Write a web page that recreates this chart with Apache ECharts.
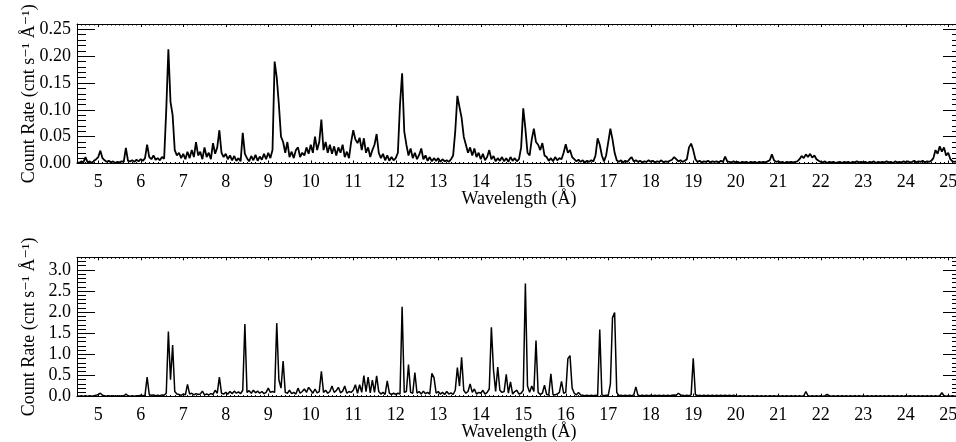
<!DOCTYPE html>
<html>
<head>
    <meta charset="utf-8"/>
    <title>Count rate spectra</title>
    <style type="text/css">
        body { margin: 0; background: #fff; }
        #main { width: 956px; height: 442px; }
    </style>
    <script type="text/javascript" src="https://cdn.jsdelivr.net/npm/echarts@6/dist/echarts.min.js"></script>
</head>
<body>
<div id="main"></div>
<script type="text/javascript">

    // wavelength grid: 4.50 .. 25.30 A, one value every 0.05 A
    var waveStart = 4.5;
    var waveStep = 0.05;

    // upper panel, count rate (cnt s^-1 A^-1), rows start at 4.5, 5, 6, ... 25
    var rateTop = [
        0.003,0.001,0.004,0.002,0.012,0.002,0.004,0.001,0.005,0.008,
        0.012,0.024,0.010,0.006,0.003,0.005,0.002,0.004,0.001,0.003,0.002,0.004,0.003,0.029,0.005,0.004,0.006,0.003,0.007,0.004,
        0.008,0.005,0.010,0.035,0.012,0.008,0.015,0.007,0.010,0.006,0.012,0.009,0.100,0.213,0.115,0.090,0.025,0.015,0.020,0.010,
        0.018,0.008,0.022,0.010,0.025,0.012,0.040,0.015,0.022,0.008,0.030,0.012,0.020,0.008,0.038,0.018,0.030,0.062,0.020,0.012,
        0.018,0.008,0.015,0.006,0.014,0.005,0.010,0.004,0.057,0.018,0.010,0.004,0.014,0.006,0.016,0.005,0.013,0.007,0.018,0.008,
        0.020,0.010,0.025,0.190,0.160,0.110,0.050,0.040,0.020,0.040,0.012,0.022,0.010,0.025,0.030,0.012,0.020,0.015,0.030,0.018,
        0.035,0.020,0.050,0.025,0.040,0.082,0.025,0.040,0.020,0.035,0.018,0.032,0.015,0.030,0.020,0.035,0.012,0.022,0.010,0.040,
        0.062,0.045,0.038,0.048,0.025,0.047,0.020,0.030,0.012,0.025,0.035,0.055,0.020,0.010,0.018,0.006,0.015,0.005,0.012,0.006,
        0.010,0.020,0.110,0.168,0.060,0.035,0.015,0.028,0.010,0.020,0.008,0.016,0.028,0.008,0.015,0.005,0.012,0.004,0.010,0.005,
        0.010,0.003,0.008,0.004,0.006,0.003,0.008,0.015,0.060,0.126,0.105,0.085,0.050,0.035,0.020,0.030,0.015,0.028,0.012,0.020,
        0.008,0.018,0.006,0.012,0.025,0.008,0.014,0.004,0.010,0.005,0.012,0.004,0.010,0.003,0.012,0.005,0.010,0.004,0.008,0.030,
        0.103,0.065,0.020,0.015,0.045,0.065,0.040,0.035,0.025,0.038,0.015,0.012,0.005,0.010,0.004,0.012,0.006,0.010,0.008,0.020,
        0.036,0.020,0.025,0.012,0.008,0.004,0.007,0.003,0.006,0.002,0.005,0.003,0.006,0.004,0.015,0.047,0.035,0.015,0.004,0.015,
        0.040,0.065,0.045,0.020,0.006,0.003,0.006,0.002,0.005,0.003,0.008,0.012,0.004,0.006,0.003,0.005,0.002,0.004,0.003,0.006,
        0.003,0.005,0.002,0.004,0.003,0.006,0.002,0.004,0.003,0.005,0.007,0.012,0.008,0.004,0.006,0.003,0.005,0.008,0.030,0.037,
        0.025,0.008,0.003,0.005,0.002,0.004,0.003,0.005,0.002,0.004,0.003,0.004,0.002,0.005,0.003,0.013,0.004,0.003,0.002,0.004,
        0.002,0.003,0.001,0.003,0.002,0.003,0.001,0.003,0.002,0.003,0.001,0.003,0.002,0.003,0.002,0.004,0.006,0.017,0.006,0.003,
        0.004,0.002,0.003,0.001,0.003,0.002,0.003,0.002,0.003,0.004,0.008,0.014,0.010,0.017,0.012,0.018,0.011,0.015,0.008,0.005,
        0.003,0.002,0.004,0.001,0.003,0.002,0.003,0.001,0.002,0.003,0.001,0.003,0.002,0.003,0.001,0.003,0.002,0.004,0.002,0.003,
        0.002,0.003,0.001,0.003,0.002,0.004,0.001,0.003,0.002,0.003,0.002,0.004,0.002,0.003,0.001,0.004,0.002,0.003,0.002,0.004,
        0.002,0.004,0.002,0.003,0.005,0.002,0.004,0.003,0.005,0.002,0.004,0.003,0.005,0.010,0.025,0.018,0.032,0.022,0.030,0.015,
        0.020,0.008,0.004,0.003,0.004,0.002,0.003
    ];

    // lower panel, count rate (cnt s^-1 A^-1), same grid
    var rateBottom = [
        0.02,0.01,0.02,0.01,0.02,0.01,0.02,0.01,0.02,0.03,
        0.05,0.08,0.03,0.02,0.01,0.02,0.01,0.02,0.01,0.02,0.01,0.02,0.01,0.06,0.02,0.01,0.02,0.01,0.02,0.02,
        0.03,0.02,0.03,0.46,0.05,0.03,0.04,0.02,0.03,0.02,0.04,0.03,0.08,1.54,0.40,1.22,0.12,0.06,0.05,0.03,
        0.06,0.04,0.29,0.06,0.08,0.04,0.07,0.05,0.06,0.13,0.04,0.06,0.04,0.07,0.05,0.15,0.08,0.46,0.08,0.06,
        0.10,0.06,0.12,0.07,0.13,0.08,0.11,0.07,0.15,1.72,0.10,0.14,0.08,0.15,0.09,0.13,0.08,0.12,0.07,0.10,
        0.20,0.10,0.12,0.10,1.74,0.40,0.20,0.84,0.10,0.08,0.15,0.07,0.10,0.06,0.20,0.08,0.12,0.18,0.10,0.22,
        0.15,0.08,0.18,0.09,0.12,0.60,0.10,0.15,0.08,0.12,0.25,0.10,0.14,0.22,0.09,0.13,0.25,0.08,0.12,0.10,
        0.15,0.28,0.08,0.28,0.10,0.50,0.12,0.46,0.09,0.39,0.10,0.49,0.12,0.06,0.10,0.05,0.37,0.08,0.05,0.08,
        0.05,0.08,0.06,2.13,0.10,0.12,0.76,0.10,0.08,0.57,0.08,0.12,0.06,0.13,0.07,0.10,0.06,0.55,0.45,0.08,
        0.12,0.06,0.10,0.05,0.12,0.06,0.09,0.05,0.15,0.69,0.25,0.93,0.15,0.08,0.12,0.30,0.10,0.18,0.06,0.10,
        0.08,0.15,0.06,0.10,0.18,1.64,0.63,0.12,0.70,0.15,0.10,0.12,0.53,0.08,0.35,0.06,0.12,0.15,0.06,0.08,
        0.15,2.68,0.25,0.10,0.25,0.12,1.33,0.10,0.05,0.08,0.27,0.05,0.04,0.54,0.05,0.04,0.06,0.10,0.36,0.08,
        0.10,0.90,0.97,0.20,0.08,0.04,0.10,0.04,0.03,0.02,0.03,0.02,0.03,0.02,0.03,0.02,1.59,0.04,0.02,0.03,
        0.03,0.30,1.87,1.99,0.10,0.02,0.03,0.02,0.03,0.02,0.03,0.02,0.04,0.23,0.03,0.02,0.03,0.02,0.03,0.02,
        0.03,0.02,0.03,0.02,0.03,0.02,0.03,0.02,0.03,0.02,0.03,0.04,0.03,0.08,0.04,0.03,0.02,0.03,0.02,0.04,
        0.91,0.05,0.02,0.03,0.02,0.03,0.02,0.03,0.02,0.03,0.02,0.03,0.02,0.03,0.02,0.03,0.02,0.03,0.02,0.03,
        0.02,0.01,0.02,0.01,0.02,0.01,0.02,0.01,0.02,0.01,0.02,0.01,0.02,0.01,0.02,0.01,0.02,0.01,0.02,0.01,
        0.02,0.01,0.02,0.01,0.02,0.01,0.02,0.01,0.02,0.01,0.02,0.01,0.02,0.12,0.02,0.01,0.02,0.01,0.02,0.01,
        0.02,0.01,0.02,0.05,0.02,0.01,0.02,0.01,0.02,0.01,0.02,0.01,0.02,0.01,0.02,0.01,0.02,0.01,0.02,0.01,
        0.02,0.01,0.02,0.01,0.02,0.01,0.02,0.01,0.02,0.01,0.02,0.01,0.02,0.01,0.02,0.01,0.02,0.01,0.02,0.01,
        0.02,0.01,0.02,0.01,0.02,0.01,0.02,0.01,0.02,0.01,0.02,0.01,0.02,0.01,0.02,0.01,0.02,0.09,0.02,0.01,
        0.02,0.01,0.02,0.01,0.02,0.01,0.02
    ];

    var xName = 'Wavelength (\u00C5)';
    var yName = 'Count Rate (cnt s\u207B\u00B9 \u00C5\u207B\u00B9)';
    var serif = 'Liberation Serif, DejaVu Serif, serif';
    var fontPx = 18;

    function toPairs(rates) {
        return rates.map(function (r, i) {
            return [+(waveStart + i * waveStep).toFixed(2), r];
        });
    }

    var black = {color: '#000', width: 1};

    // wavelength axes, one at the bottom with labels and a bare one on top
    function waveAxis(grid, pos) {
        var ax = {
            gridIndex: grid,
            type: 'value',
            position: pos,
            min: 4.5,
            max: 25.3,
            splitNumber: 20,
            axisLine: {show: true, onZero: false, lineStyle: black},
            axisTick: {show: true, inside: true, length: 3, lineStyle: black},
            minorTick: {show: true, splitNumber: 10, length: 1.5, lineStyle: black},
            splitLine: {show: false},
            axisLabel: {show: false}
        };
        if (pos === 'bottom') {
            ax.axisLabel = {
                show: true, color: '#000', fontFamily: serif, fontSize: fontPx, margin: 10,
                showMinLabel: false, showMaxLabel: false
            };
            ax.name = xName;
            ax.nameLocation = 'middle';
            ax.nameGap = 27;
            ax.nameMoveOverlap = false;
            ax.nameTextStyle = {color: '#000', fontFamily: serif, fontSize: fontPx};
        }
        return ax;
    }

    function rateAxis(grid, pos, max, step, digits) {
        var ax = {
            gridIndex: grid,
            type: 'value',
            position: pos,
            min: 0,
            max: max,
            interval: step,
            axisLine: {show: true, lineStyle: black},
            axisTick: {show: true, inside: true, length: 18, lineStyle: black},
            minorTick: {show: true, splitNumber: 5, length: 9, lineStyle: black},
            splitLine: {show: false},
            axisLabel: {show: false}
        };
        if (pos === 'left') {
            ax.axisLabel = {
                show: true, color: '#000', fontFamily: serif, fontSize: fontPx, margin: 6,
                showMaxLabel: false,
                formatter: function (v) { return v.toFixed(digits); }
            };
            ax.name = yName;
            ax.nameLocation = 'middle';
            ax.nameGap = 39;
            ax.nameMoveOverlap = false;
            ax.nameTextStyle = {color: '#000', fontFamily: serif, fontSize: fontPx};
        }
        return ax;
    }

    var myChart = echarts.init(document.getElementById('main'), null, {renderer: 'canvas'});

    var option = {
        backgroundColor: '#fff',
        animation: false,
        grid: [
            {left: 77, top: 24, width: 884, height: 139.5, outerBoundsMode: 'none', containLabel: false},
            {left: 77, top: 257.3, width: 884, height: 139.3, outerBoundsMode: 'none', containLabel: false}
        ],
        xAxis: [
            waveAxis(0, 'bottom'), waveAxis(0, 'top'),
            waveAxis(1, 'bottom'), waveAxis(1, 'top')
        ],
        yAxis: [
            rateAxis(0, 'left', 0.26, 0.05, 2), rateAxis(0, 'right', 0.26, 0.05, 2),
            rateAxis(1, 'left', 3.3, 0.5, 1), rateAxis(1, 'right', 3.3, 0.5, 1)
        ],
        series: [
            {
                type: 'line', xAxisIndex: 0, yAxisIndex: 0,
                data: toPairs(rateTop),
                showSymbol: false, clip: true,
                lineStyle: {color: '#000', width: 1.8}
            },
            {
                type: 'line', xAxisIndex: 2, yAxisIndex: 2,
                data: toPairs(rateBottom),
                showSymbol: false, clip: true,
                lineStyle: {color: '#000', width: 1.5}
            }
        ]
    };

    myChart.setOption(option);

</script>
</body>
</html>
